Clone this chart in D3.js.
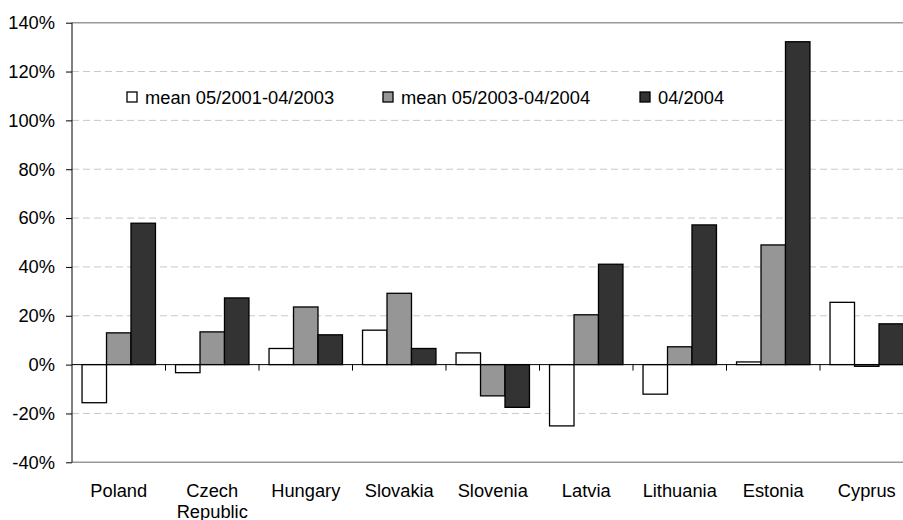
<!DOCTYPE html>
<html>
<head>
<meta charset="utf-8">
<script src="https://cdn.jsdelivr.net/npm/d3@7"></script>
<style>
  body { margin: 0; background: #fff; }
  svg text { font-family: "Liberation Sans", Arial, sans-serif; fill: #000; }
</style>
</head>
<body>
<svg width="903" height="520"></svg>
<script>
var countries = ["Poland", "Czech Republic", "Hungary", "Slovakia", "Slovenia", "Latvia", "Lithuania", "Estonia", "Cyprus"];
var seriesNames = ["mean 05/2001-04/2003", "mean 05/2003-04/2004", "04/2004"];
var mean0103 = [-15.6, -3.3, 6.6, 14.1, 4.8, -25.1, -12.1, 1.1, 25.5];
var mean0304 = [13.0, 13.4, 23.6, 29.2, -12.8, 20.4, 7.3, 49.0, -0.7];
var apr2004 = [57.9, 27.3, 12.2, 6.6, -17.5, 41.1, 57.2, 132.2, 16.7];
var yTicks = [-40, -20, 0, 20, 40, 60, 80, 100, 120, 140];

var svg = d3.select("svg"),
    pLeft = 72, pRight = 913.5, pTop = 22.7, pBottom = 462.3,
    fs = "18.3px";

var colors = ["#ffffff", "#969696", "#333333"];
var values = [mean0103, mean0304, apr2004];

var x = d3.scaleBand().domain(countries).range([pLeft, pRight]);
var x1 = d3.scaleBand().domain(seriesNames).range([0, x.bandwidth()]).paddingOuter(0.41);
var y = d3.scaleLinear().domain([-40, 140]).range([pBottom, pTop]);

// grid lines
svg.append("g").selectAll("line")
    .data(yTicks.filter(function(d) { return d != 0 && d != 140 && d != -40; }))
    .enter().append("line")
      .attr("x1", pLeft).attr("x2", 903)
      .attr("y1", function(d) { return y(d); })
      .attr("y2", function(d) { return y(d); })
      .attr("stroke", "#c8c8c8")
      .attr("stroke-dasharray", "7,4");

// top and bottom frame
svg.append("line").attr("x1", pLeft).attr("x2", 903).attr("y1", y(140)).attr("y2", y(140))
    .attr("stroke", "#999").attr("stroke-width", 1.5);
svg.append("line").attr("x1", pLeft).attr("x2", 903).attr("y1", y(-40)).attr("y2", y(-40))
    .attr("stroke", "#999").attr("stroke-width", 1.5);

// bars
var rows = countries.map(function(c, i) {
  return { country: c, vals: seriesNames.map(function(s, j) { return { key: s, j: j, v: values[j][i] }; }) };
});

var grp = svg.append("g").selectAll("g")
    .data(rows)
    .enter().append("g")
      .attr("transform", function(d) { return "translate(" + x(d.country) + ",0)"; });

grp.selectAll("rect")
    .data(function(d) { return d.vals; })
    .enter().append("rect")
      .attr("x", function(d) { return x1(d.key); })
      .attr("width", x1.bandwidth())
      .attr("y", function(d) { return y(Math.max(0, d.v)); })
      .attr("height", function(d) { return Math.abs(y(d.v) - y(0)); })
      .attr("fill", function(d) { return colors[d.j]; })
      .attr("stroke", "#000")
      .attr("stroke-width", 1.3);

// zero line with category ticks
svg.append("line").attr("x1", pLeft).attr("x2", 903).attr("y1", y(0)).attr("y2", y(0))
    .attr("stroke", "#000").attr("stroke-width", 1);
svg.append("g").selectAll("line")
    .data(countries.slice(1))
    .enter().append("line")
      .attr("x1", function(d) { return x(d); })
      .attr("x2", function(d) { return x(d); })
      .attr("y1", y(0)).attr("y2", y(0) + 6)
      .attr("stroke", "#000");

// y axis
var yAxis = svg.append("g")
    .attr("transform", "translate(" + pLeft + ",0)")
    .call(d3.axisLeft(y).tickValues(yTicks).tickSize(6).tickPadding(11)
      .tickFormat(function(d) { return d + "%"; }));
yAxis.select(".domain").attr("stroke", "#000").attr("d", "M0," + pTop + "V" + pBottom);
yAxis.selectAll(".tick line").attr("stroke", "#000");
yAxis.attr("font-family", null).attr("font-size", null);
yAxis.selectAll(".tick text")
    .style("font-size", fs);

// category labels
var lab = svg.append("g").selectAll("text")
    .data(countries)
    .enter().append("text")
      .attr("x", function(d) { return x(d) + x.bandwidth() / 2; })
      .attr("y", 496.5)
      .attr("text-anchor", "middle")
      .style("font-size", fs);
lab.each(function(d) {
  var t = d3.select(this);
  d.split(" ").forEach(function(w, k) {
    t.append("tspan").attr("x", x(d) + x.bandwidth() / 2).attr("dy", k ? 21 : 0).text(w);
  });
});

// legend
var legX = [127, 383, 640];
var leg = svg.append("g").selectAll("g")
    .data(seriesNames)
    .enter().append("g")
      .attr("transform", function(d, i) { return "translate(" + legX[i] + ",92)"; });
leg.append("rect")
    .attr("width", 10).attr("height", 10)
    .attr("fill", function(d, i) { return colors[i]; })
    .attr("stroke", "#000").attr("stroke-width", 1.3);
leg.append("text")
    .attr("x", 18).attr("y", 11.5)
    .style("font-size", fs)
    .text(function(d) { return d; });
</script>
</body>
</html>
